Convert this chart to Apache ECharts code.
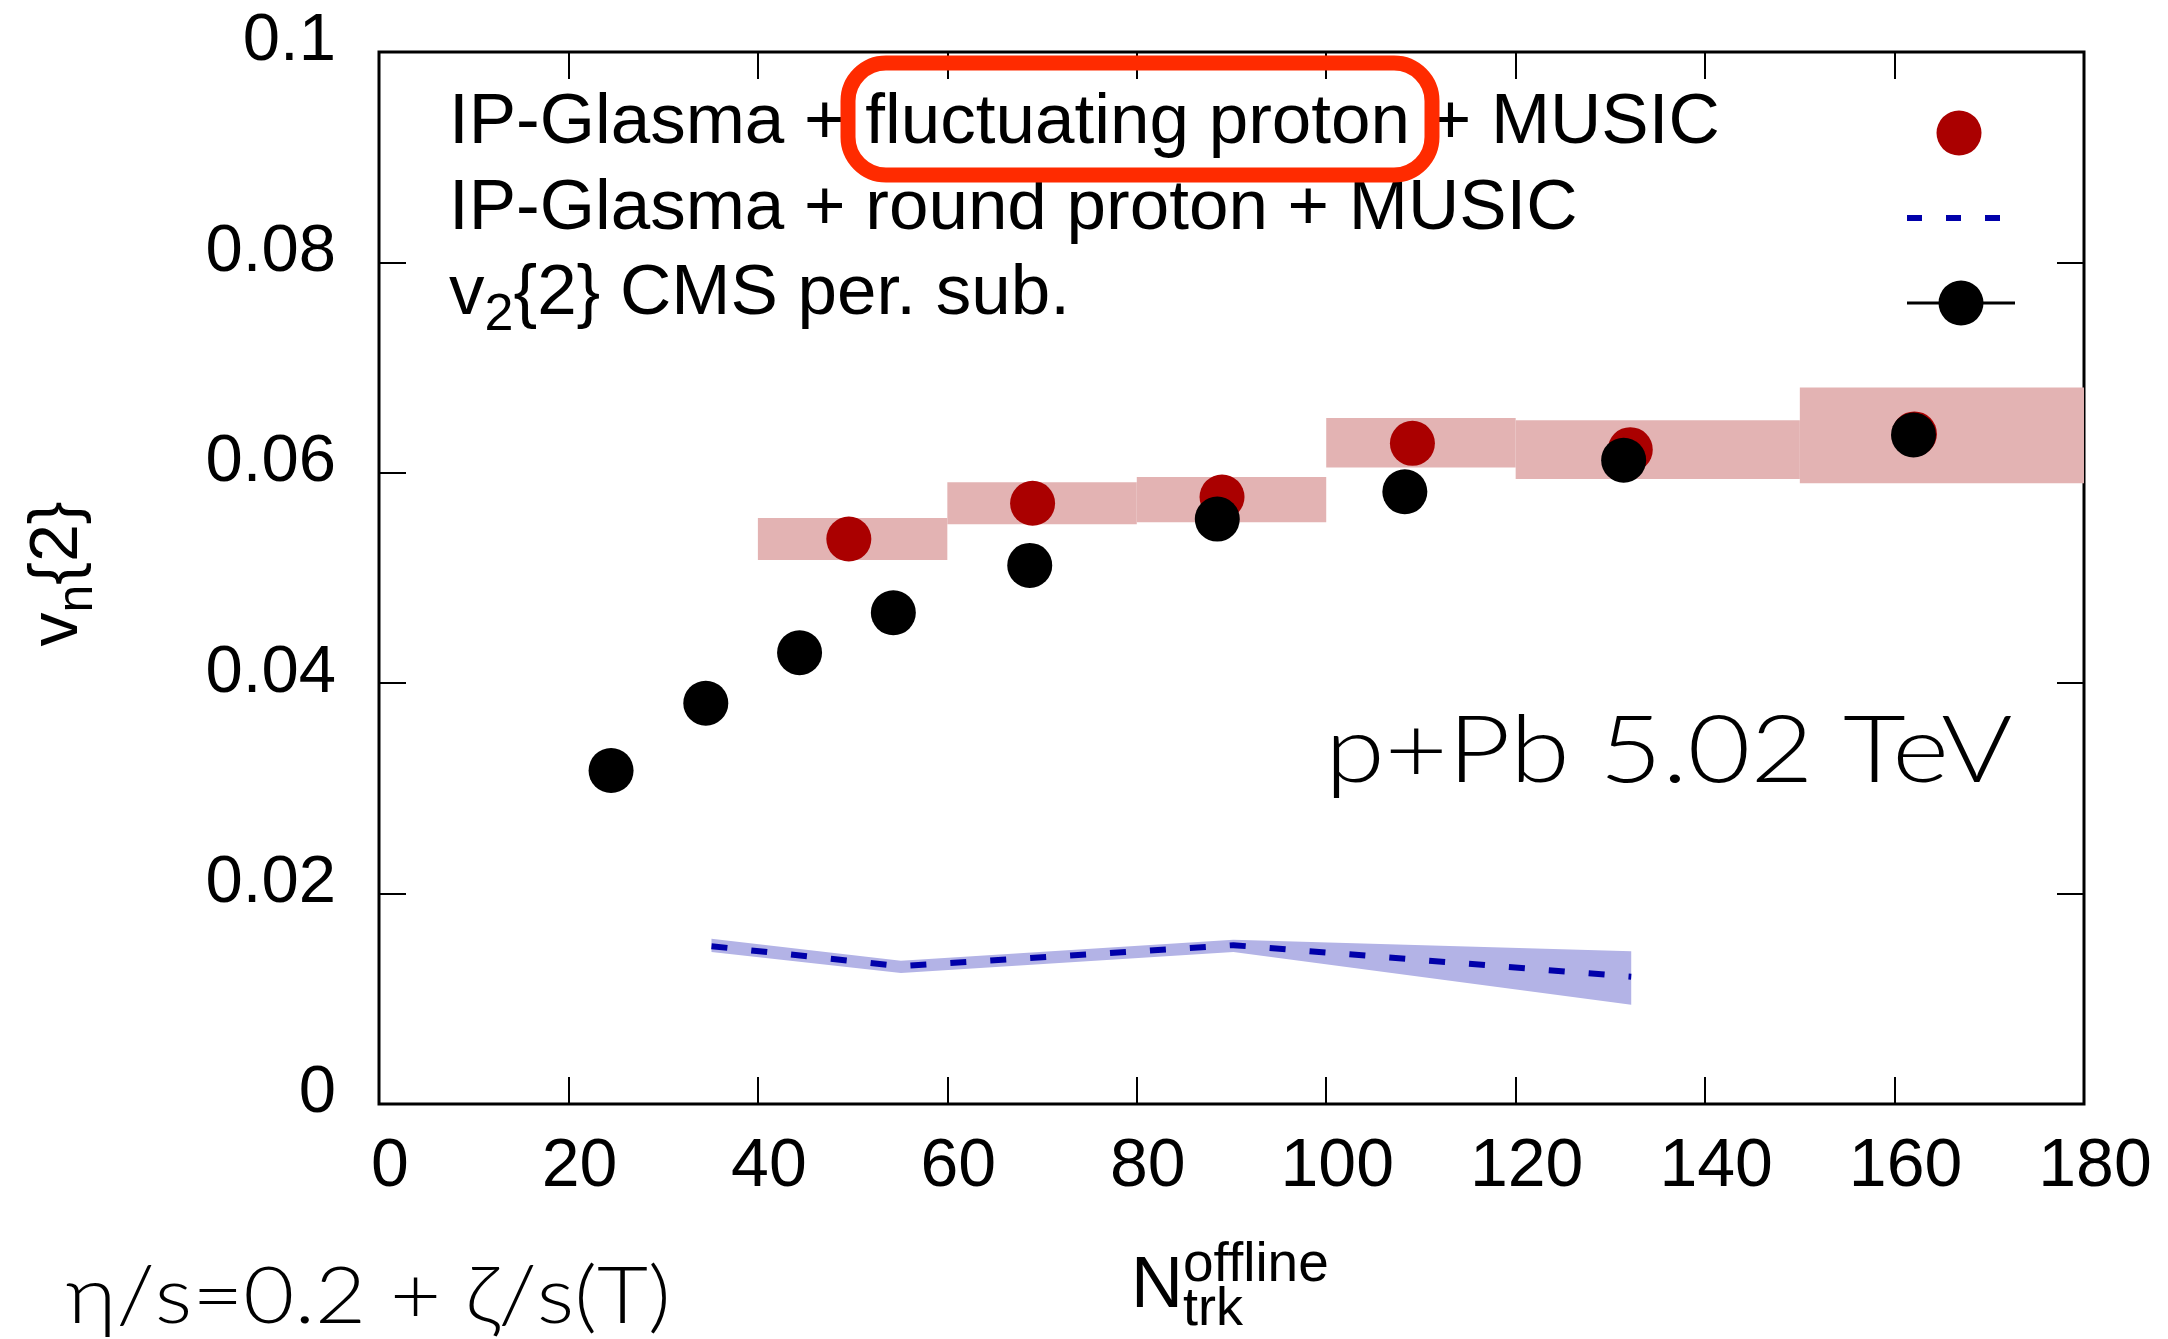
<!DOCTYPE html>
<html><head><meta charset="utf-8">
<script src="https://cdn.jsdelivr.net/npm/echarts@6/dist/echarts.min.js"></script>
<style>html,body{margin:0;padding:0;background:#fff}#c{width:2168px;height:1339px}</style>
</head><body><div id="c"></div>
<script>
// ---- data ----
const xTickLabels = ['0','20','40','60','80','100','120','140','160','180'];
const yTickLabels = ['0','0.02','0.04','0.06','0.08','0.1'];
// CMS v2{2} per. sub.
const cmsX  = [24.5, 34.5, 44.4, 54.3, 68.7, 88.5, 108.3, 131.4, 162.0];
const cmsV2 = [0.0317, 0.0381, 0.0429, 0.0467, 0.0512, 0.0556, 0.0582, 0.0612, 0.0636];
// IP-Glasma + fluctuating proton + MUSIC
const flucX  = [49.6, 69.0, 89.0, 109.1, 132.1, 162.1];
const flucV2 = [0.0537, 0.0571, 0.0577, 0.0628, 0.0622, 0.0637];
const binLow  = [40, 60, 80, 100, 120, 150];
const binHigh = [60, 80, 100, 120, 150, 180];
const flucErrLow  = [0.0517, 0.0551, 0.0553, 0.0605, 0.0594, 0.0590];
const flucErrHigh = [0.0557, 0.0591, 0.0596, 0.0652, 0.0650, 0.0681];
// IP-Glasma + round proton + MUSIC
const roundX    = [35.1, 55.1, 90.2, 132.2];
const roundV2   = [0.0150, 0.0131, 0.0151, 0.0121];
const roundLow  = [0.01445, 0.01245, 0.01445, 0.00944];
const roundHigh = [0.0157, 0.01362, 0.01562, 0.01453];

const legendTexts = ['IP-Glasma + fluctuating proton + MUSIC', 'IP-Glasma + round proton + MUSIC', 'v{s|2}{2} CMS per. sub.'];

const FONT = "'Liberation Sans', Arial, sans-serif";
const FONT2 = "Lato, 'Noto Sans', sans-serif";
const chart = echarts.init(document.getElementById('c'), null, {renderer: 'canvas'});

const tickStyle = {inside: true, length: 27, lineStyle: {color: '#000', width: 2}};
const xAxisBase = {type: 'value', min: 0, max: 180, interval: 20, splitLine: {show: false},
  axisLine: {show: false, onZero: false}, axisTick: tickStyle};
const yAxisBase = {type: 'value', min: 0, max: 0.1, interval: 0.02, splitLine: {show: false},
  axisLine: {show: false, onZero: false}, axisTick: tickStyle};

const option = {
  animation: false,
  backgroundColor: '#fff',
  grid: {left: 379, right: 84, top: 52, bottom: 235, show: true, borderColor: '#000', borderWidth: 3, backgroundColor: 'transparent'},
  xAxis: [
    Object.assign({}, xAxisBase, {position: 'bottom',
      axisLabel: {show: true, color: '#000', fontFamily: FONT, fontSize: 68, margin: 63, verticalAlign: 'middle', padding: [0, 0, 0, 22],
        formatter: v => xTickLabels[Math.round(v / 20)]}}),
    Object.assign({}, xAxisBase, {position: 'top', axisLabel: {show: false}})
  ],
  yAxis: [
    Object.assign({}, yAxisBase, {position: 'left',
      axisLabel: {show: true, color: '#000', fontFamily: FONT, fontSize: 67, margin: 43,
        formatter: v => '{t|' + yTickLabels[Math.round(v / 0.02)] + '}',
        rich: {t: {fontFamily: FONT, fontSize: 67, color: '#000', padding: [0, 0, 20, 0]}}}}),
    Object.assign({}, yAxisBase, {position: 'right', axisLabel: {show: false}})
  ],
  series: [
    {
      type: 'custom', name: 'fluc band', z: 1, silent: true,
      data: binLow.map((x0, i) => [x0, binHigh[i], flucErrLow[i], flucErrHigh[i]]),
      encode: {x: [0, 1], y: [2, 3]},
      renderItem: (p, api) => {
        const a = api.coord([api.value(0), api.value(3)]);
        const b = api.coord([api.value(1), api.value(2)]);
        return {type: 'rect', shape: {x: a[0], y: a[1], width: b[0] - a[0], height: b[1] - a[1]}, style: {fill: '#e3b3b3'}};
      }
    },
    {
      type: 'custom', name: 'round band', z: 1, silent: true,
      data: roundX.map((x, i) => [x, roundLow[i], roundHigh[i]]),
      encode: {x: 0, y: [1, 2]},
      renderItem: (p, api) => {
        if (p.dataIndex !== 0) return null;
        const pts = [];
        for (let i = 0; i < roundX.length; i++) pts.push(api.coord([roundX[i], roundHigh[i]]));
        for (let i = roundX.length - 1; i >= 0; i--) pts.push(api.coord([roundX[i], roundLow[i]]));
        return {type: 'polygon', shape: {points: pts}, style: {fill: '#b3b3e6'}};
      }
    },
    {
      type: 'line', name: 'round', z: 3, silent: true, symbol: 'none', showSymbol: false,
      data: roundX.map((x, i) => [x, roundV2[i]]),
      lineStyle: {color: '#0000aa', width: 6, type: [16, 24]}
    },
    {
      type: 'scatter', name: 'fluc', z: 4, silent: true, symbol: 'circle', symbolSize: 45,
      data: flucX.map((x, i) => [x, flucV2[i]]),
      itemStyle: {color: '#aa0000', opacity: 1}
    },
    {
      type: 'scatter', name: 'cms', z: 5, silent: true, symbol: 'circle', symbolSize: 45,
      data: cmsX.map((x, i) => [x, cmsV2[i]]),
      itemStyle: {color: '#000', opacity: 1}
    }
  ],
  graphic: [
    // legend texts
    {type: 'text', x: 449, y: 123, z: 10, style: {text: legendTexts[0], fontFamily: FONT, fontSize: 71, fill: '#000', align: 'left', verticalAlign: 'middle'}},
    {type: 'text', x: 449, y: 209, z: 10, style: {text: legendTexts[1], fontFamily: FONT, fontSize: 71, fill: '#000', align: 'left', verticalAlign: 'middle'}},
    {type: 'text', x: 449, y: 294, z: 10, style: {text: legendTexts[2], fontFamily: FONT, fontSize: 71, fill: '#000', align: 'left', verticalAlign: 'middle',
      rich: {s: {fontFamily: FONT, fontSize: 52, fill: '#000', padding: [44, 0, 0, 0]}}}},
    // legend markers
    {type: 'circle', z: 10, shape: {cx: 1959, cy: 133, r: 22.5}, style: {fill: '#aa0000'}},
    {type: 'line', z: 10, shape: {x1: 1907, y1: 218, x2: 2000, y2: 218}, style: {stroke: '#0000aa', lineWidth: 6, lineDash: [15, 24]}},
    {type: 'line', z: 10, shape: {x1: 1907, y1: 303, x2: 2015, y2: 303}, style: {stroke: '#000', lineWidth: 3}},
    {type: 'circle', z: 11, shape: {cx: 1961, cy: 303, r: 22.5}, style: {fill: '#000'}},
    // highlight box
    {type: 'rect', z: 12, shape: {x: 848, y: 63, width: 584, height: 112, r: 38}, style: {fill: 'none', stroke: '#ff2b00', lineWidth: 15}},
    // y-axis title
    {type: 'text', x: 58, y: 574, rotation: Math.PI / 2, z: 10, style: {text: 'v{s|n}{2}', fontFamily: FONT, fontSize: 68, fill: '#000', align: 'center', verticalAlign: 'middle',
      rich: {s: {fontFamily: FONT, fontSize: 50, fill: '#000', padding: [40, 0, 0, 0]}}}},
    // x-axis title
    {type: 'text', x: 1131, y: 1287, z: 10, style: {text: 'N', fontFamily: FONT, fontSize: 72, fill: '#000', align: 'left', verticalAlign: 'middle'}},
    {type: 'text', x: 1183, y: 1266, z: 10, style: {text: 'offline', fontFamily: FONT, fontSize: 55, fill: '#000', align: 'left', verticalAlign: 'middle'}},
    {type: 'text', x: 1183, y: 1310, z: 10, style: {text: 'trk', fontFamily: FONT, fontSize: 54, fill: '#000', align: 'left', verticalAlign: 'middle'}},
    // annotations
    {type: 'text', x: 1325, y: 752, scaleX: 1.18, z: 10, style: {text: 'p+Pb 5.02 TeV', fontFamily: FONT2, fontWeight: 300, fontSize: 92, fill: '#000', align: 'left', verticalAlign: 'middle'}},
    {type: 'text', x: 66, y: 1298, scaleX: 1.13, z: 10, style: {text: 'η/s=0.2 + ζ/s(T)', fontFamily: FONT2, fontWeight: 300, fontSize: 78, fill: '#000', align: 'left', verticalAlign: 'middle'}}
  ]
};
chart.setOption(option);
</script>
</body></html>
